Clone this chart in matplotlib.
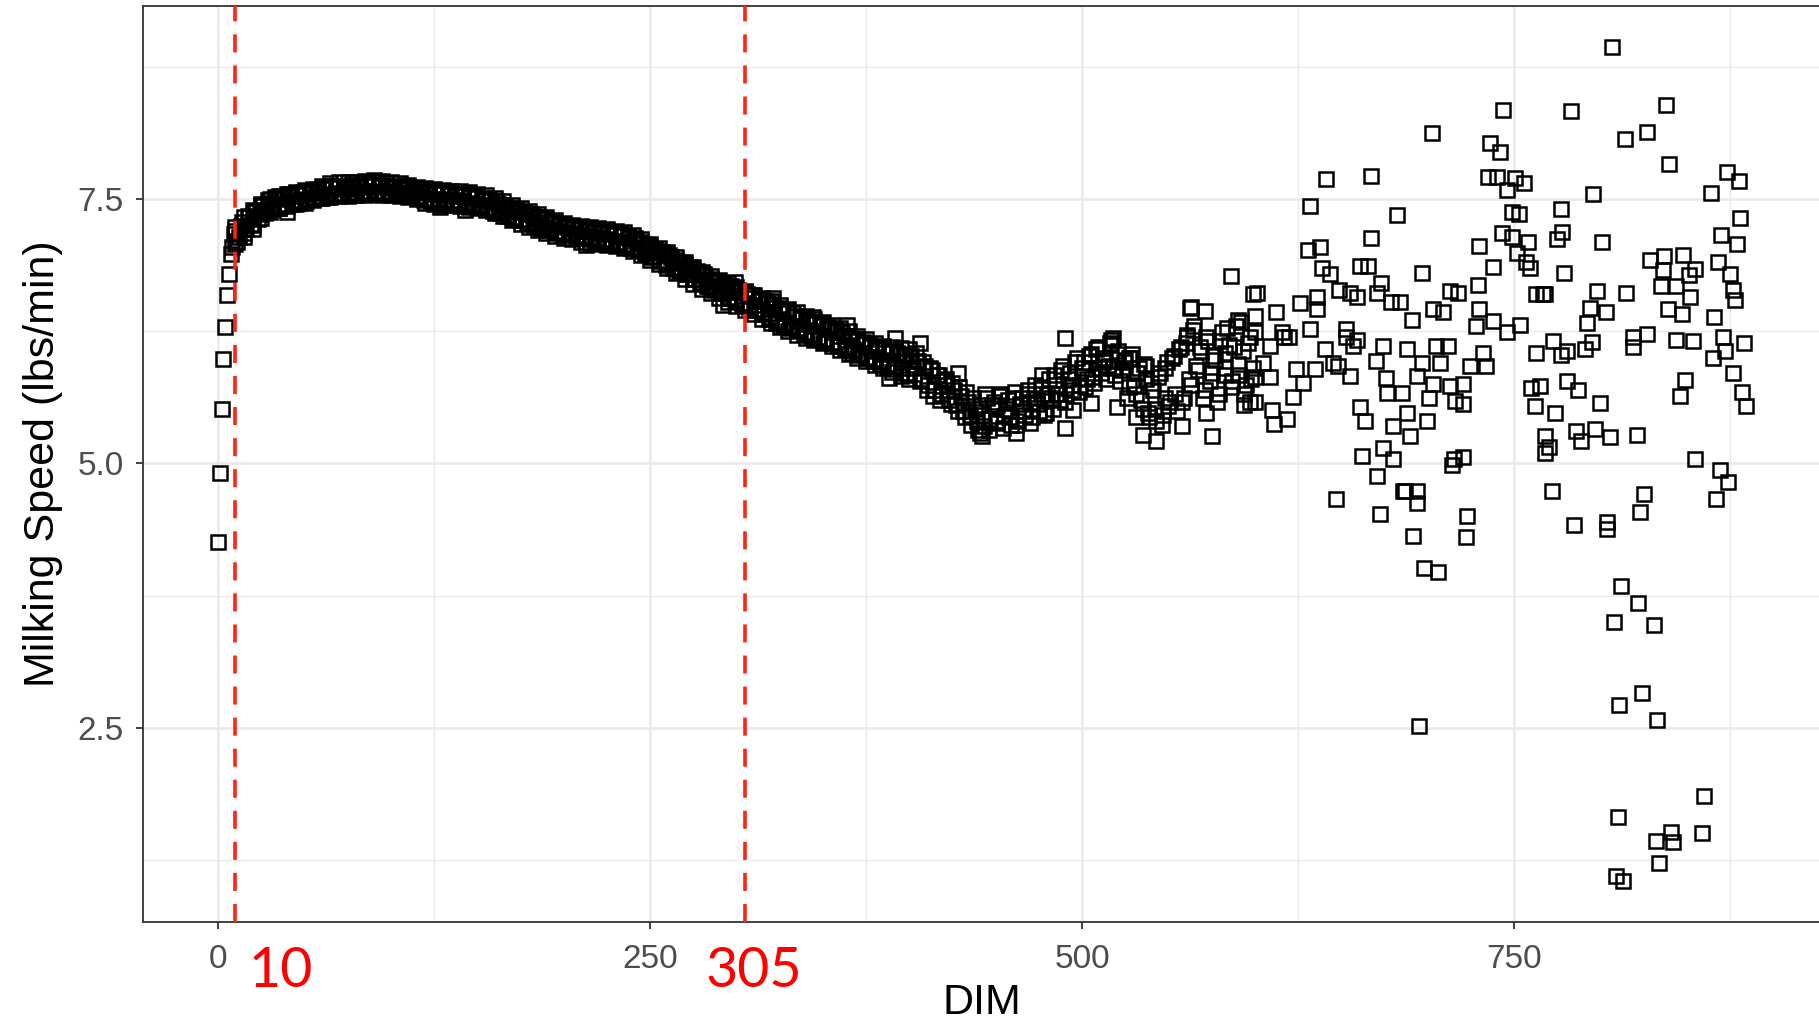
import numpy as np
import matplotlib
matplotlib.use("Agg")
import matplotlib.pyplot as plt
import matplotlib.transforms as mtransforms

plt.rcParams['font.family'] = ['Liberation Sans', 'DejaVu Sans']

# first days of lactation, read one by one
early_dim = [0.2, 1.2, 2.5, 3.1, 4.0, 5.0, 6.0, 7.5]
early_speed = [4.26, 4.91, 5.52, 5.99, 6.29, 6.59, 6.79, 6.98]

# dense band, even days from DIM 8 to 400
band_dim = np.arange(8, 401, 2)
band_speed = [
    7.05, 7.20, 7.14, 7.29, 7.22, 7.33, 7.27, 7.38, 7.36, 7.44,
    7.40, 7.47, 7.43, 7.50, 7.44, 7.51, 7.46, 7.53, 7.48, 7.54,
    7.49, 7.55, 7.50, 7.56, 7.52, 7.57, 7.53, 7.60, 7.55, 7.62,
    7.56, 7.61, 7.55, 7.60, 7.57, 7.61, 7.56, 7.62, 7.58, 7.63,
    7.57, 7.64, 7.58, 7.62, 7.57, 7.63, 7.58, 7.61, 7.57, 7.60,
    7.56, 7.60, 7.55, 7.58, 7.53, 7.57, 7.51, 7.56, 7.50, 7.55,
    7.50, 7.55, 7.49, 7.54, 7.49, 7.53, 7.48, 7.53, 7.47, 7.52,
    7.46, 7.51, 7.45, 7.49, 7.43, 7.48, 7.41, 7.46, 7.39, 7.43,
    7.35, 7.40, 7.33, 7.38, 7.31, 7.36, 7.29, 7.34, 7.27, 7.31,
    7.24, 7.29, 7.22, 7.27, 7.20, 7.25, 7.19, 7.24, 7.18, 7.22,
    7.16, 7.21, 7.15, 7.20, 7.14, 7.19, 7.13, 7.18, 7.12, 7.17,
    7.11, 7.16, 7.10, 7.15, 7.08, 7.13, 7.05, 7.11, 7.03, 7.08,
    6.99, 7.05, 6.96, 7.01, 6.93, 6.98, 6.90, 6.95, 6.86, 6.91,
    6.83, 6.88, 6.79, 6.84, 6.75, 6.80, 6.72, 6.77, 6.68, 6.73,
    6.65, 6.71, 6.62, 6.68, 6.58, 6.66, 6.56, 6.62, 6.52, 6.60,
    6.50, 6.57, 6.46, 6.54, 6.43, 6.52, 6.39, 6.47, 6.35, 6.45,
    6.33, 6.42, 6.30, 6.40, 6.28, 6.37, 6.24, 6.34, 6.23, 6.32,
    6.20, 6.30, 6.18, 6.27, 6.15, 6.25, 6.12, 6.21, 6.10, 6.18,
    6.07, 6.16, 6.04, 6.13, 6.01, 6.10, 5.99, 6.07, 5.97, 6.05,
    5.94, 6.06, 5.92, 6.04, 5.90, 6.02, 5.86,
]

# dense band, odd days from DIM 9 to 399
band_dim_odd = np.arange(9, 400, 2)
band_speed_odd = [
    7.17, 7.10, 7.25, 7.18, 7.34, 7.26, 7.39, 7.31, 7.45, 7.37,
    7.49, 7.41, 7.52, 7.42, 7.53, 7.45, 7.55, 7.46, 7.56, 7.47,
    7.57, 7.48, 7.58, 7.50, 7.59, 7.51, 7.61, 7.52, 7.63, 7.54,
    7.63, 7.54, 7.62, 7.55, 7.64, 7.54, 7.64, 7.56, 7.65, 7.56,
    7.66, 7.56, 7.64, 7.55, 7.65, 7.56, 7.63, 7.55, 7.62, 7.54,
    7.62, 7.53, 7.60, 7.51, 7.59, 7.49, 7.58, 7.48, 7.57, 7.47,
    7.57, 7.47, 7.56, 7.47, 7.55, 7.46, 7.55, 7.45, 7.54, 7.44,
    7.53, 7.43, 7.51, 7.41, 7.50, 7.39, 7.48, 7.37, 7.45, 7.34,
    7.42, 7.32, 7.40, 7.30, 7.38, 7.28, 7.36, 7.26, 7.33, 7.23,
    7.31, 7.21, 7.29, 7.19, 7.27, 7.17, 7.26, 7.16, 7.24, 7.15,
    7.23, 7.13, 7.22, 7.12, 7.21, 7.11, 7.20, 7.10, 7.19, 7.09,
    7.18, 7.08, 7.17, 7.07, 7.15, 7.04, 7.13, 7.02, 7.10, 6.99,
    7.07, 6.95, 7.03, 6.92, 7.00, 6.88, 6.97, 6.85, 6.93, 6.82,
    6.90, 6.79, 6.86, 6.75, 6.82, 6.71, 6.79, 6.68, 6.75, 6.64,
    6.73, 6.61, 6.70, 6.57, 6.68, 6.54, 6.64, 6.51, 6.62, 6.48,
    6.59, 6.45, 6.56, 6.41, 6.54, 6.37, 6.50, 6.33, 6.47, 6.31,
    6.44, 6.28, 6.42, 6.26, 6.39, 6.23, 6.36, 6.21, 6.34, 6.19,
    6.32, 6.16, 6.29, 6.14, 6.27, 6.11, 6.24, 6.08, 6.21, 6.05,
    6.18, 6.03, 6.15, 6.00, 6.12, 5.97, 6.10, 5.94, 6.08, 5.92,
    6.07, 5.89, 6.05, 5.86, 6.03, 5.84,
]

# upper and lower edge of the band, every fifth day from DIM 10 to 400
edge_dim = np.arange(10, 401, 5)
edge_upper = [
    7.24, 7.33, 7.40, 7.46, 7.50, 7.53, 7.55, 7.57, 7.59, 7.60,
    7.63, 7.65, 7.66, 7.66, 7.66, 7.67, 7.68, 7.67, 7.66, 7.65,
    7.64, 7.62, 7.61, 7.60, 7.59, 7.58, 7.58, 7.57, 7.55, 7.54,
    7.51, 7.48, 7.45, 7.42, 7.39, 7.36, 7.33, 7.30, 7.28, 7.26,
    7.25, 7.24, 7.23, 7.22, 7.20, 7.19, 7.16, 7.12, 7.08, 7.04,
    7.00, 6.95, 6.91, 6.86, 6.81, 6.77, 6.74, 6.71, 6.67, 6.63,
    6.59, 6.57, 6.54, 6.50, 6.46, 6.43, 6.40, 6.37, 6.34, 6.31,
    6.28, 6.25, 6.21, 6.18, 6.14, 6.11, 6.10, 6.09, 6.08,
]
edge_lower = [
    7.08, 7.14, 7.22, 7.32, 7.38, 7.42, 7.44, 7.46, 7.47, 7.49,
    7.51, 7.52, 7.53, 7.53, 7.54, 7.54, 7.55, 7.54, 7.54, 7.53,
    7.52, 7.50, 7.47, 7.46, 7.45, 7.45, 7.44, 7.43, 7.42, 7.40,
    7.37, 7.34, 7.30, 7.27, 7.24, 7.21, 7.18, 7.15, 7.13, 7.12,
    7.10, 7.09, 7.08, 7.07, 7.06, 7.04, 7.01, 6.97, 6.93, 6.89,
    6.85, 6.80, 6.75, 6.70, 6.65, 6.61, 6.57, 6.53, 6.49, 6.45,
    6.41, 6.37, 6.33, 6.29, 6.25, 6.22, 6.19, 6.17, 6.14, 6.11,
    6.07, 6.04, 6.00, 5.97, 5.93, 5.90, 5.87, 5.83, 5.80,
]

# odd days 401-599, where the band widens
mid_dim = np.arange(401, 600, 2)
mid_speed = [
    6.02, 5.85, 5.97, 5.80, 5.92, 5.74, 5.88, 5.70, 5.84, 5.66,
    5.80, 5.60, 5.76, 5.55, 5.72, 5.50, 5.68, 5.46, 5.62, 5.40,
    5.55, 5.35, 5.62, 5.42, 5.58, 5.38, 5.66, 5.45, 5.60, 5.36,
    5.68, 5.40, 5.62, 5.46, 5.70, 5.44, 5.74, 5.50, 5.66, 5.48,
    5.80, 5.52, 5.74, 5.60, 5.92, 5.66, 5.86, 5.70, 6.00, 5.74,
    5.96, 5.80, 6.04, 5.76, 6.10, 5.86, 5.98, 5.92, 6.12, 5.84,
    6.06, 5.88, 5.98, 5.72, 6.04, 5.66, 5.90, 5.52, 5.80, 5.44,
    5.70, 5.40, 5.86, 5.46, 5.96, 5.58, 6.02, 5.50, 6.10, 5.62,
    6.20, 5.74, 6.30, 5.88, 6.06, 5.70, 6.16, 5.86, 5.98, 5.66,
    6.24, 5.90, 6.12, 5.78, 6.30, 5.84, 6.06, 5.74, 6.20, 5.90,
]

# even days 402-600
mid_dim_even = np.arange(402, 601, 2)
mid_speed_even = [
    5.90, 6.05, 5.78, 5.96, 5.70, 5.90, 5.64, 5.84, 5.60, 5.78,
    5.74, 5.56, 5.70, 5.50, 5.64, 5.44, 5.58, 5.36, 5.52, 5.32,
    5.46, 5.66, 5.32, 5.55, 5.40, 5.64, 5.34, 5.52, 5.44, 5.62,
    5.36, 5.56, 5.50, 5.66, 5.38, 5.62, 5.56, 5.72, 5.46, 5.66,
    5.62, 5.84, 5.66, 5.88, 5.58, 5.80, 5.74, 5.96, 5.68, 5.90,
    5.72, 6.02, 5.82, 6.08, 5.90, 6.00, 5.80, 6.14, 5.90, 6.04,
    5.78, 5.96, 5.62, 6.00, 5.74, 5.86, 5.60, 5.94, 5.48, 5.76,
    5.52, 5.82, 5.36, 5.90, 5.54, 6.00, 5.66, 6.08, 5.58, 6.14,
    5.80, 6.26, 5.92, 6.10, 5.62, 6.20, 5.78, 6.02, 5.58, 6.16,
    5.84, 6.28, 5.72, 6.10, 5.94, 6.34, 5.66, 6.14, 5.80, 6.40,
]

# single points that stand out of the band (DIM < 600)
stray_dim = [40, 128.5, 143, 213, 299, 292, 321, 344, 364, 392, 388, 406, 428, 441,
             442, 462, 490, 477, 490, 495, 505, 518, 520, 537, 535, 543, 558, 562.5,
             571, 561, 575, 572, 590, 597, 586, 599, 563, 517, 531, 451, 470, 485,
             512, 527, 548, 583, 594]
stray_speed = [7.38, 7.43, 7.40, 7.07, 6.72, 6.50, 6.57, 6.39, 6.31, 6.19, 5.81, 6.14, 5.86, 5.29,
               5.26, 5.29, 5.34, 5.84, 6.19, 5.51, 5.57, 6.19, 5.53, 5.92, 5.27, 5.21, 5.35, 6.47,
               6.44, 6.22, 5.26, 5.48, 6.36, 5.58, 6.77, 6.60, 6.48, 6.17, 5.44, 5.55, 5.58, 5.66,
               5.96, 6.00, 5.62, 6.05, 5.55]

# late lactation, scattered points
late_dim = [
    600, 609, 616, 605, 620, 600, 609, 624, 628, 622, 610, 611, 618.5, 600, 635, 648,
    655, 645, 653, 657, 632, 612, 626, 601, 636, 649, 655, 659, 670.5, 679, 684, 703,
    709, 730, 636, 691, 728, 738, 746, 753.5, 617, 653, 659, 640.6, 674, 688, 705, 712,
    732, 724.5, 734, 670, 676, 697, 707, 694, 703, 713, 720.5, 763, 765, 760, 676.5, 685,
    701, 716, 720.5, 762, 661, 688, 664, 680, 690, 699.5, 768, 768, 662, 674, 680, 715,
    720.5, 671, 647, 687, 694, 672.5, 723, 691.6, 722, 686, 694, 706, 698, 695, 714, 743.8,
    702.4, 736, 742, 641, 667, 632, 682, 735, 740, 750.6, 756, 746, 749, 753, 667, 631,
    638, 730, 743, 749, 758, 752, 757, 759, 737.7, 697, 638.7, 643.5, 661, 665.5, 673, 763,
    768, 729, 713, 717.6, 807, 783, 838, 814, 827, 840, 796, 873, 880, 864, 777, 778,
    775, 801, 881, 870, 879, 779, 829, 837, 848, 855, 851, 836, 868, 875, 876.5, 878,
    835, 844, 852, 798, 815, 794, 803, 839, 847, 866, 792, 767, 772.6, 795, 791, 819,
    827, 819, 844, 853.6, 871, 883, 872, 865, 780.5, 777, 877, 849, 846, 882, 884, 780.5,
    787, 800, 774, 786, 797, 805.5, 821, 789, 770, 855, 869, 874, 867, 772, 825, 823,
    785, 803.6, 804, 812, 822, 808, 831, 824, 811, 833, 860, 810, 841, 832, 842, 859,
    834, 809, 813,
]
late_speed = [
    6.24, 6.11, 6.24, 5.95, 6.20, 5.82, 5.82, 5.89, 5.76, 5.63, 5.51, 5.37, 5.42, 5.58, 5.89, 5.92,
    5.83, 5.95, 6.20, 6.11, 6.27, 6.43, 6.52, 6.61, 6.58, 6.64, 6.61, 6.58, 6.61, 6.53, 6.53, 6.46,
    6.43, 6.46, 6.46, 6.36, 6.30, 6.35, 6.24, 6.31, 6.20, 6.27, 6.17, 6.08, 6.11, 6.08, 6.11, 6.11,
    6.05, 5.92, 5.92, 5.97, 5.81, 5.95, 5.95, 5.83, 5.75, 5.73, 5.75, 6.05, 5.73, 5.71, 5.67, 5.67,
    5.62, 5.59, 5.56, 5.54, 5.53, 5.48, 5.40, 5.35, 5.26, 5.40, 5.26, 5.10, 5.07, 5.15, 5.04, 5.04,
    5.06, 4.88, 4.66, 4.74, 4.63, 4.52, 4.50, 4.31, 4.30, 4.74, 4.74, 3.97, 4.01, 2.52, 4.99, 8.35,
    8.13, 8.03, 7.95, 7.69, 7.72, 7.44, 7.35, 7.71, 7.71, 7.70, 7.65, 7.59, 7.38, 7.36, 7.13, 7.02,
    7.05, 7.06, 7.18, 7.14, 7.10, 6.99, 6.91, 6.85, 6.86, 6.80, 6.85, 6.79, 6.87, 6.87, 6.71, 6.60,
    6.60, 6.69, 6.63, 6.61, 8.94, 8.34, 8.39, 8.07, 8.14, 7.83, 7.55, 7.76, 7.67, 7.56, 7.41, 7.19,
    7.12, 7.10, 7.32, 7.16, 7.08, 6.80, 6.93, 6.96, 6.97, 6.84, 6.78, 6.83, 6.91, 6.79, 6.64, 6.55,
    6.68, 6.68, 6.58, 6.63, 6.61, 6.47, 6.43, 6.46, 6.41, 6.39, 6.33, 6.60, 6.16, 6.15, 6.08, 6.20,
    6.23, 6.10, 6.17, 6.16, 6.20, 6.14, 6.06, 6.00, 6.06, 6.03, 5.86, 5.79, 5.64, 5.68, 5.54, 5.78,
    5.70, 5.57, 5.48, 5.31, 5.33, 5.25, 5.27, 5.21, 5.16, 5.04, 4.94, 4.82, 4.66, 4.74, 4.71, 4.54,
    4.42, 4.38, 4.45, 3.84, 3.68, 3.50, 3.47, 2.83, 2.71, 2.57, 1.85, 1.65, 1.51, 1.43, 1.42, 1.50,
    1.22, 1.10, 1.05,
]

cutoffs = [10, 305]
cutoff_labels = ["10", "305"]
cutoff_label_x = [36, 310]

xticks = [0, 250, 500, 750]
yticks = [2.5, 5.0, 7.5]

dim = np.concatenate([early_dim, band_dim, band_dim_odd, edge_dim, edge_dim,
                      mid_dim, mid_dim_even, stray_dim, late_dim])
speed = np.concatenate([early_speed, band_speed, band_speed_odd, edge_upper, edge_lower,
                        mid_speed, mid_speed_even, stray_speed, late_speed])

fig = plt.figure(figsize=(18.19, 10.31), dpi=100)
ax = fig.add_axes([0.0786, 0.1057, 0.9228, 0.8885])

ax.set_xlim(-43.5, 928)
ax.set_ylim(0.66, 9.33)

ax.plot(dim, speed, linestyle='none', marker='s', markersize=10.6,
        markerfacecolor='none', markeredgecolor='black', markeredgewidth=1.8, zorder=3)

for c in cutoffs:
    ax.axvline(c, color='#FF2414', linewidth=2.6, linestyle=(0, (5, 3.6)), zorder=4)

trans = mtransforms.blended_transform_factory(ax.transData, ax.transAxes)
for lx, lab in zip(cutoff_label_x, cutoff_labels):
    ax.text(lx, -0.071, lab, transform=trans, ha='center', va='baseline',
            color='red', fontsize=40, family=['Lato', 'DejaVu Sans'], clip_on=False)

# theme_bw look
ax.set_xticks(xticks)
ax.set_xticklabels([str(t) for t in xticks])
ax.set_yticks(yticks)
ax.set_yticklabels([f"{t:.1f}" for t in yticks])
ax.set_xticks([125, 375, 625, 875], minor=True)
ax.set_yticks([1.25, 3.75, 6.25, 8.75], minor=True)
ax.grid(which='major', color='#EBEBEB', linewidth=2.0, zorder=0)
ax.grid(which='minor', color='#EBEBEB', linewidth=1.0, zorder=0)
ax.set_axisbelow(True)
ax.tick_params(which='major', length=5, width=1.3, color='#333333',
               labelcolor='#4D4D4D', labelsize=24)
ax.tick_params(axis='x', pad=11)
ax.tick_params(axis='y', pad=9)
ax.tick_params(which='minor', length=0)
for s in ax.spines.values():
    s.set_color('#333333')
    s.set_linewidth(1.3)

ax.set_xlabel('DIM', fontsize=31, labelpad=5.5)
ax.set_ylabel('Milking Speed (lbs/min)', fontsize=31, labelpad=10)

fig.savefig('out.png', dpi=100)
